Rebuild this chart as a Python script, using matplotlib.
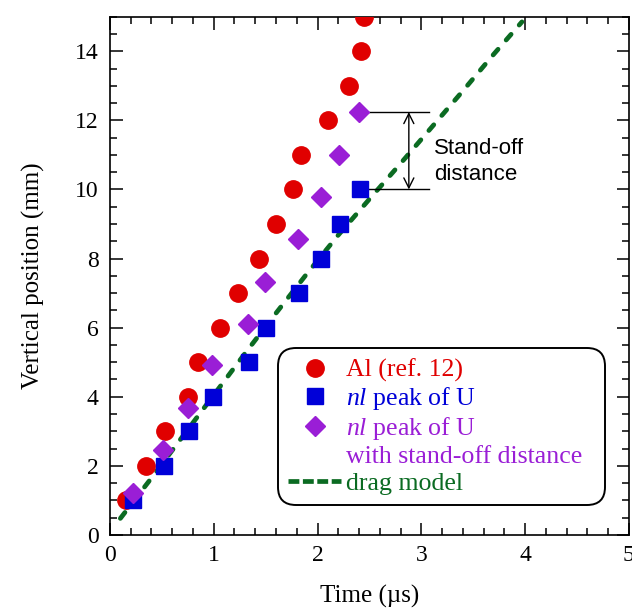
import matplotlib
matplotlib.use("Agg")
import matplotlib.pyplot as plt
from matplotlib.lines import Line2D

# Al reference data (ref. 12)
al_time = [0.15, 0.35, 0.53, 0.75, 0.85, 1.06, 1.23, 1.44, 1.60, 1.76, 1.84, 2.10, 2.30, 2.42, 2.45]
al_pos = [1, 2, 3, 4, 5, 6, 7, 8, 9, 10, 11, 12, 13, 14, 15]

# nl peak of U
nl_time = [0.22, 0.52, 0.76, 0.99, 1.34, 1.50, 1.82, 2.03, 2.22, 2.41]
nl_pos = [1, 2, 3, 4, 5, 6, 7, 8, 9, 10]

# nl peak of U shifted by the stand-off distance
so_time = [0.22, 0.51, 0.75, 0.98, 1.33, 1.49, 1.81, 2.03, 2.21, 2.40]
so_pos = [1.21, 2.46, 3.67, 4.92, 6.11, 7.31, 8.57, 9.77, 11.00, 12.24]

# drag model trajectory
drag_time = [0.10, 0.40, 0.70, 1.00, 1.30, 1.60, 1.90, 2.20, 2.50, 2.80, 3.10, 3.40, 3.70, 3.97]
drag_pos = [0.48, 1.65, 2.85, 4.05, 5.25, 6.42, 7.57, 8.68, 9.72, 10.75, 11.80, 12.85, 13.92, 14.85]

RED = "#e00000"
BLUE = "#0000d8"
PURPLE = "#9a1ed6"
GREEN = "#0b6b22"

SERIF = "Liberation Serif"
SANS = "Liberation Sans"

plt.rcParams["font.family"] = SERIF
plt.rcParams["mathtext.fontset"] = "custom"
plt.rcParams["mathtext.rm"] = SERIF
plt.rcParams["mathtext.it"] = SERIF + ":italic"


def main():
    fig = plt.figure(figsize=(6.32, 6.11), dpi=100)
    ax = fig.add_axes([0.174, 0.1244, 0.821, 0.8483])

    ax.plot(drag_time, drag_pos, color=GREEN, lw=3.4, dashes=(1.6, 2.6),
            dash_capstyle="round", zorder=2)
    ax.plot(al_time, al_pos, ls="none", marker="o", ms=12.5, color=RED, zorder=3)
    ax.plot(nl_time, nl_pos, ls="none", marker="s", ms=11.5, color=BLUE, zorder=3)
    ax.plot(so_time, so_pos, ls="none", marker="D", ms=10.5, color=PURPLE, zorder=4)

    # stand-off distance between the last two points
    x1 = 3.07
    ax.plot([so_time[-1] + 0.05, x1], [so_pos[-1], so_pos[-1]], color="black", lw=1)
    ax.plot([nl_time[-1] + 0.05, x1], [nl_pos[-1], nl_pos[-1]], color="black", lw=1)
    ax.annotate("", xy=(2.88, so_pos[-1]), xytext=(2.88, nl_pos[-1]),
                arrowprops=dict(arrowstyle="<->", lw=1, color="black",
                                shrinkA=0, shrinkB=0, mutation_scale=18))
    ax.text(3.12, 10.81, "Stand-off\ndistance", family=SANS, fontsize=16,
            va="center", ha="left", linespacing=1.3)

    ax.set_xlim(0, 5)
    ax.set_ylim(0, 15)
    ax.set_xticks([0, 1, 2, 3, 4, 5])
    ax.set_yticks([0, 2, 4, 6, 8, 10, 12, 14])
    ax.set_xticks([i * 0.2 for i in range(26)], minor=True)
    ax.set_yticks([i * 0.5 for i in range(31)], minor=True)
    ax.tick_params(which="both", direction="in", top=True, right=True, width=1.1)
    ax.tick_params(which="major", length=9, labelsize=17)
    ax.tick_params(which="minor", length=5)
    ax.tick_params(axis="y", pad=8)
    ax.tick_params(axis="x", pad=7)
    for sp in ax.spines.values():
        sp.set_linewidth(1.2)

    ax.set_xlabel("Time (\u00b5s)", fontsize=18, labelpad=14)
    ax.set_ylabel("Vertical position (mm)", fontsize=18, labelpad=22)

    handles = [
        Line2D([], [], ls="none", marker="o", ms=12.5, color=RED),
        Line2D([], [], ls="none", marker="s", ms=11.5, color=BLUE),
        Line2D([], [], ls="none", marker="D", ms=10.5, color=PURPLE),
        Line2D([], [], ls="none"),
        Line2D([], [], color=GREEN, lw=3.4, dashes=(2.3, 0.75)),
    ]
    labels = ["Al (ref. 12)", r"$\mathit{nl}$ peak of U", r"$\mathit{nl}$ peak of U",
              "with stand-off distance", "drag model"]
    leg = ax.legend(handles, labels, loc="lower left",
                    bbox_to_anchor=(0.324, 0.058, 0.63, 0.305), mode="expand",
                    borderaxespad=0, fontsize=18.6, labelspacing=0.12,
                    handlelength=2.05, handletextpad=0.18, borderpad=0.4,
                    labelcolor=[RED, BLUE, PURPLE, PURPLE, GREEN],
                    fancybox=True, framealpha=1, edgecolor="black")
    frame = leg.get_frame()
    frame.set_linewidth(1.4)
    frame.set_boxstyle("round", pad=0, rounding_size=0.7)

    fig.savefig("out.png", dpi=100)
    plt.close(fig)


if __name__ == "__main__":
    main()
